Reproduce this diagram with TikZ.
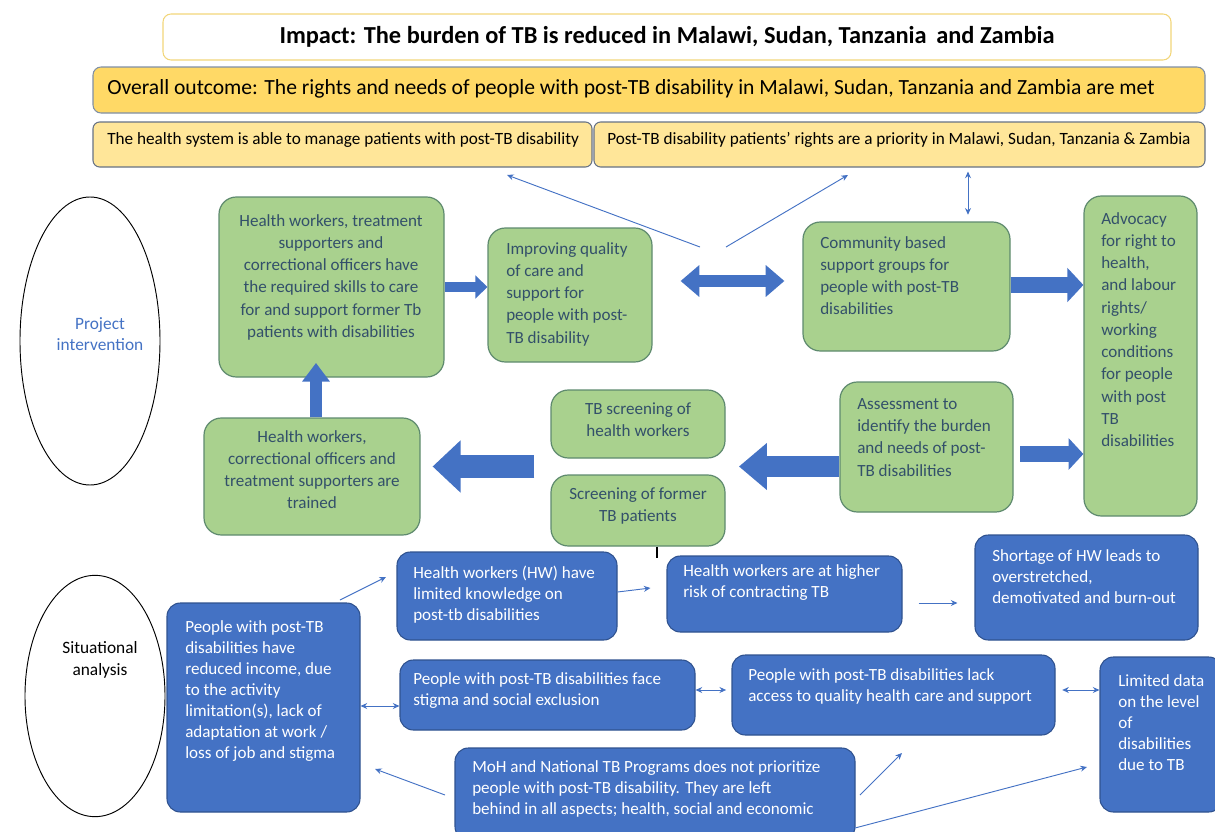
\documentclass[tikz,border=0pt]{standalone}
\usepackage{fontspec}
\setmainfont{Carlito}
\usetikzlibrary{arrows.meta,fit,shapes.geometric,calc}
\definecolor{bl}{HTML}{4472C4}
\definecolor{blb}{HTML}{2F528F}
\definecolor{gfill}{HTML}{A9D18E}
\definecolor{gbord}{HTML}{5E8A6E}
\definecolor{gtext}{HTML}{33506A}
\definecolor{yfill}{HTML}{FFD966}
\definecolor{yfill2}{HTML}{FFE699}
\definecolor{ybord}{HTML}{7F8FA6}
\definecolor{ibord}{HTML}{F2D67A}
\begin{document}
\begin{tikzpicture}[x=0.75pt,y=-0.75pt,
  ybox/.style={draw=ybord,fill=yfill,rounded corners=6pt,line width=0.8pt,inner sep=0pt},
  ybox2/.style={draw=ybord!80!black,fill=yfill2,rounded corners=5pt,line width=0.8pt,inner sep=0pt},
  ibox/.style={draw=ibord,fill=white,rounded corners=6pt,line width=0.8pt,inner sep=0pt},
  gbox/.style={draw=gbord,fill=gfill,rounded corners=13pt,line width=0.9pt,inner sep=0pt},
  bbox/.style={draw=blb,fill=bl,rounded corners=10pt,line width=0.8pt,inner sep=0pt},
  gtxt/.style={inner sep=0pt,text=gtext,font=\fontsize{12.8}{16.7}\selectfont},
  btxt/.style={inner sep=0pt,text=white,font=\fontsize{12.8}{15.8}\selectfont,align=left,anchor=north west},
  oval/.style={draw=black,ellipse,line width=0.7pt,inner sep=0pt},
  barr/.style={draw=bl},
  thin/.style={draw=bl,line width=0.7pt,-{Stealth[length=5pt,width=4.5pt]}},
  thinb/.style={draw=bl,line width=0.7pt,{Stealth[length=5pt,width=4.5pt]}-{Stealth[length=5pt,width=4.5pt]}}
]
\useasboundingbox (0,0) rectangle (1215,832);

% top boxes
\node[ibox,fit={(163,14) (1171,60)}] (imp) {};
\node[font=\fontsize{18.3}{20}\selectfont\bfseries,inner sep=0pt] (impt) at (667,37) {Impact: The burden of TB is reduced in Malawi, Sudan, Tanzania\, and Zambia};
\node[ybox,fit={(93,67) (1205,113)}] (ov) {};
\node[font=\fontsize{16.2}{20}\selectfont,inner sep=0pt,anchor=west] (ovt) at (107,89) {Overall outcome: The rights and needs of people with post-TB disability in Malawi, Sudan, Tanzania and Zambia are met};
\node[ybox2,fit={(93,122) (592,167)}] (o1) {};
\node[font=\fontsize{12.9}{14}\selectfont,inner sep=0pt,anchor=west] (o1t) at (107,140) {The health system is able to manage patients with post-TB disability};
\node[ybox2,fit={(594,122) (1205,167)}] (o2) {};
\node[font=\fontsize{12.9}{14}\selectfont,inner sep=0pt,anchor=west] (o2t) at (607,140) {Post-TB disability patients' rights are a priority in Malawi, Sudan, Tanzania \& Zambia};

% ellipses
\node[oval,minimum width=105pt,minimum height=216pt] (pi) at (90,341) {};
\node[text=bl,font=\fontsize{13}{16}\selectfont,align=center,inner sep=0pt] (pit) at (100,334) {Project\\intervention};
\node[oval,minimum width=105pt,minimum height=181pt] (sa) at (95,696) {};
\node[font=\fontsize{13}{16}\selectfont,align=center,inner sep=0pt] (sat) at (100,660) {Situational\\analysis};

% green boxes
\node[gbox,fit={(219,197) (444,377)}] (g1) {};
\node[gtxt,align=center,anchor=north] (g1t) at (331,214) {Health workers, treatment\\supporters and\\correctional officers have\\the required skills to care\\for and support former Tb\\patients with disabilities};
\node[gbox,fit={(488,228) (652,362)}] (g2) {};
\node[gtxt,align=left,anchor=north west] (g2t) at (506,242) {Improving quality\\of care and\\support for\\people with post-\\TB  disability};
\node[gbox,fit={(803,222) (1010,351)}] (g3) {};
\node[gtxt,align=left,anchor=north west] (g3t) at (820,236) {Community based\\support groups  for\\people with  post-TB\\disabilities};
\node[gbox,fit={(1084,196) (1197,516)}] (g4) {};
\node[gtxt,align=left,anchor=north west] (g4t) at (1101,212) {Advocacy\\for right to\\health,\\and  labour\\rights/\\working\\conditions\\for people\\with post\\TB\\disabilities};
\node[gbox,fit={(204,418) (420,535)}] (g5) {};
\node[gtxt,align=center,anchor=north] (g5t) at (312,430) {Health workers,\\correctional officers and\\treatment supporters are\\trained};
\node[gbox,fit={(551,390) (725,458)}] (g6) {};
\node[gtxt,align=center,anchor=north] (g6t) at (638,402) {TB screening of\\health workers};
\node[gbox,fit={(551,475) (725,546)}] (g7) {};
\node[gtxt,align=center,anchor=north] (g7t) at (638,487) {Screening of former\\TB patients};
\node[gbox,fit={(840,382) (1013,512)}] (g8) {};
\node[gtxt,align=left,anchor=north west] (g8t) at (857,398) {Assessment to\\identify the burden\\and needs of post-\\TB disabilities};

% blue boxes
\node[bbox,fit={(167,603) (360,812)}] (b1) {};
\node[btxt] (b1t) at (185,620) {People with post-TB\\disabilities have\\reduced income, due\\to the activity\\limitation(s), lack of\\adaptation at work /\\loss of job and stigma};
\node[bbox,fit={(397,552) (617,640)}] (b2) {};
\node[btxt] (b2t) at (413,566) {Health workers (HW) have\\limited knowledge on\\post-tb disabilities};
\node[bbox,fit={(667,556) (902,632)}] (b3) {};
\node[btxt] (b3t) at (683,564) {Health workers are at higher\\risk of contracting TB};
\node[bbox,fit={(975,535) (1198,640)}] (b4) {};
\node[btxt] (b4t) at (992,549) {Shortage of HW leads to\\overstretched,\\demotivated and burn-out};
\node[bbox,fit={(400,660) (695,730)}] (b5) {};
\node[btxt] (b5t) at (413,672) {People with post-TB  disabilities face\\stigma and social exclusion};
\node[bbox,fit={(732,655) (1055,735)}] (b6) {};
\node[btxt] (b6t) at (748,668) {People with post-TB disabilities lack\\access to quality health care and support};
\node[bbox,fit={(1100,657) (1222,812)}] (b7) {};
\node[btxt] (b7t) at (1118,674) {Limited data\\on the level\\of\\disabilities\\due to TB};
\node[bbox,fit={(455,748) (855,840)}] (b8) {};
\node[btxt] (b8t) at (472,760) {MoH and National TB Programs  does not prioritize\\people  with  post-TB  disability. They  are left\\behind in all aspects; health, social and economic};

% block arrows
\draw[barr,line width=7.5pt,-{Triangle[length=9pt,width=17pt]}] (g1.east) -- (g2.west |- g1.east);
\draw[barr,line width=9pt,{Triangle[length=14pt,width=23pt]}-{Triangle[length=14pt,width=23pt]},shorten <=21pt,shorten >=13.5pt] (g2.east |- 0,281) -- (g3.west |- 0,281);
\draw[barr,line width=12pt,-{Triangle[length=12pt,width=25pt]}] (g3.east |- 0,285) -- (g4.west |- 0,285);
\draw[barr,line width=9pt,-{Triangle[length=14pt,width=20pt]},shorten >=-11pt] (g5.north -| 316,0) -- (g1.south -| 316,0);
\coordinate (m67) at ($(g6.south west)!0.5!(g7.north west)$);
\draw[barr,line width=17pt,-{Triangle[length=21pt,width=38pt]},shorten <=12pt,shorten >=9pt] (m67) -- (g5.east |- m67);
\draw[barr,line width=16pt,-{Triangle[length=21pt,width=34pt]},shorten >=10pt] (g8.west |- m67) -- (g6.east |- m67);
\draw[barr,line width=12pt,-{Triangle[length=11pt,width=23pt]},shorten <=5pt] (g8.east |- 0,454) -- (g4.west |- 0,454);

% thin arrows top
\coordinate (t1) at (700,247);
\coordinate (t2) at (726,247);
\coordinate (e1) at (507,175);
\coordinate (e2) at (848,175);
\draw[thin] (t1) -- (e1);
\draw[thin] (t2) -- (e2);
\draw[thinb,shorten <=3pt,shorten >=5pt] (o2.south -| 968,0) -- (g3.north -| 968,0);

% thin arrows bottom
\coordinate (s1) at (340,600); \coordinate (e3) at (386,577);
\draw[thin] (s1) -- (e3);
\draw[thin] (b2.east |- 0,592) -- ($(b3.west |- 0,588)+(-16,0)$);
\draw[thin] ($(b3.east |- 0,603)+(16,0)$) -- ($(b4.west |- 0,603)+(-17,0)$);
\draw[thinb] (b1.east |- 0,706) -- (b5.west |- 0,706);
\draw[thinb,shorten >=4pt] (b5.east |- 0,690) -- (b6.west |- 0,690);
\draw[thinb,shorten <=5pt] (b6.east |- 0,690) -- (b7.west |- 0,690);
\coordinate (s4) at (445,795); \coordinate (e4) at (375,769);
\draw[thin] (s4) -- (e4);
\coordinate (s5) at (860,795); \coordinate (e5) at (902,753);
\draw[thin] (s5) -- (e5);
\coordinate (s6) at (855,828); \coordinate (e6) at (1087,767);
\draw[thin] (s6) -- (e6);

% cursor mark
\draw[line width=1.8pt,black] (g7.south -| 657,0) -- (657,558);
\end{tikzpicture}
\end{document}
